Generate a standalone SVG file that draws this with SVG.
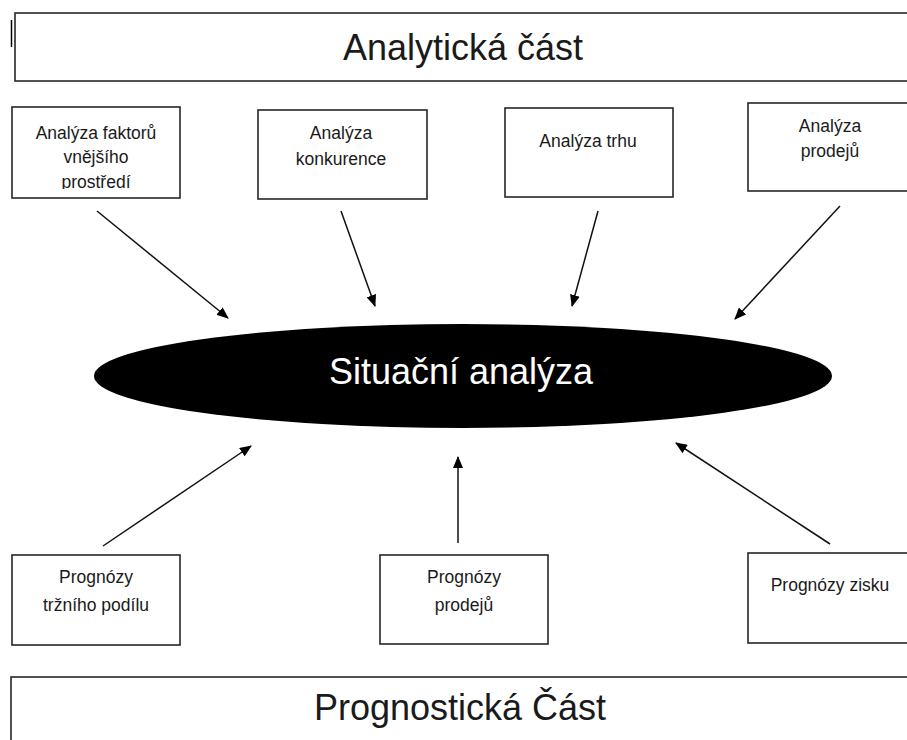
<svg xmlns="http://www.w3.org/2000/svg" width="907" height="740" viewBox="0 0 907 740">
  <style>
    .box { fill: #ffffff; stroke: #262626; stroke-width: 1.6; }
    .t { font-family: "Liberation Sans", Arial, sans-serif; fill: #1a1a1a; text-anchor: middle; }
    .big { font-size: 36px; }
    .sm { font-size: 17.5px; }
    .conn line { stroke: #111; stroke-width: 1.5; marker-end: url(#ah); }
  </style>
  <defs>
    <marker id="ah" viewBox="0 0 12 10" refX="11" refY="5" markerWidth="12" markerHeight="10" markerUnits="userSpaceOnUse" orient="auto">
      <path d="M0,0 L12,5 L0,10 z" fill="#000"/>
    </marker>
    <clipPath id="clip1"><rect x="12" y="107" width="168" height="82"/></clipPath>
  </defs>
  <rect width="907" height="740" fill="#ffffff"/>

  <line x1="11.5" y1="20" x2="11.5" y2="47" stroke="#000" stroke-width="1.5"/>

  <g id="analyticka">
    <rect class="box" x="15" y="13" width="900" height="68"/>
    <text class="t big" x="463" y="60">Analytická část</text>
  </g>

  <g id="faktory">
    <rect class="box" x="12" y="107" width="168" height="91"/>
    <g clip-path="url(#clip1)">
      <text class="t sm" x="96" y="139">Analýza faktorů</text>
      <text class="t sm" x="96" y="163">vnějšího</text>
      <text class="t sm" x="96" y="188">prostředí</text>
    </g>
  </g>

  <g id="konkurence">
    <rect class="box" x="258" y="110" width="169" height="89"/>
    <text class="t sm" x="341" y="139">Analýza</text>
    <text class="t sm" x="341" y="165">konkurence</text>
  </g>

  <g id="trh">
    <rect class="box" x="505" y="108" width="168" height="89"/>
    <text class="t sm" x="588" y="147">Analýza trhu</text>
  </g>

  <g id="prodeje">
    <rect class="box" x="748" y="103" width="170" height="88"/>
    <text class="t sm" x="830" y="132">Analýza</text>
    <text class="t sm" x="830" y="157">prodejů</text>
  </g>

  <g id="situacni">
    <ellipse cx="463" cy="376" rx="369" ry="52" fill="#000"/>
    <text class="t" x="461" y="384" style="font-size:36px; fill:#ffffff">Situační analýza</text>
  </g>

  <g id="podil">
    <rect class="box" x="12" y="555" width="168" height="90"/>
    <text class="t sm" x="96" y="583">Prognózy</text>
    <text class="t sm" x="96" y="611">tržního podílu</text>
  </g>

  <g id="prognozy-prodeju">
    <rect class="box" x="380" y="555" width="168" height="89"/>
    <text class="t sm" x="464" y="583">Prognózy</text>
    <text class="t sm" x="464" y="611">prodejů</text>
  </g>

  <g id="zisk">
    <rect class="box" x="748" y="553" width="170" height="90"/>
    <text class="t sm" x="830" y="591">Prognózy zisku</text>
  </g>

  <g id="prognosticka">
    <rect class="box" x="11" y="677" width="910" height="80"/>
    <text class="t big" x="460" y="720">Prognostická Část</text>
  </g>

  <g id="connectors" class="conn">
    <line x1="97" y1="211" x2="228" y2="318"/>
    <line x1="341" y1="211" x2="375" y2="306"/>
    <line x1="598" y1="211" x2="572" y2="306"/>
    <line x1="840" y1="206" x2="735" y2="319"/>
    <line x1="103" y1="546" x2="251" y2="446"/>
    <line x1="458" y1="543" x2="458" y2="457"/>
    <line x1="830" y1="544" x2="676" y2="443"/>
  </g>
</svg>
